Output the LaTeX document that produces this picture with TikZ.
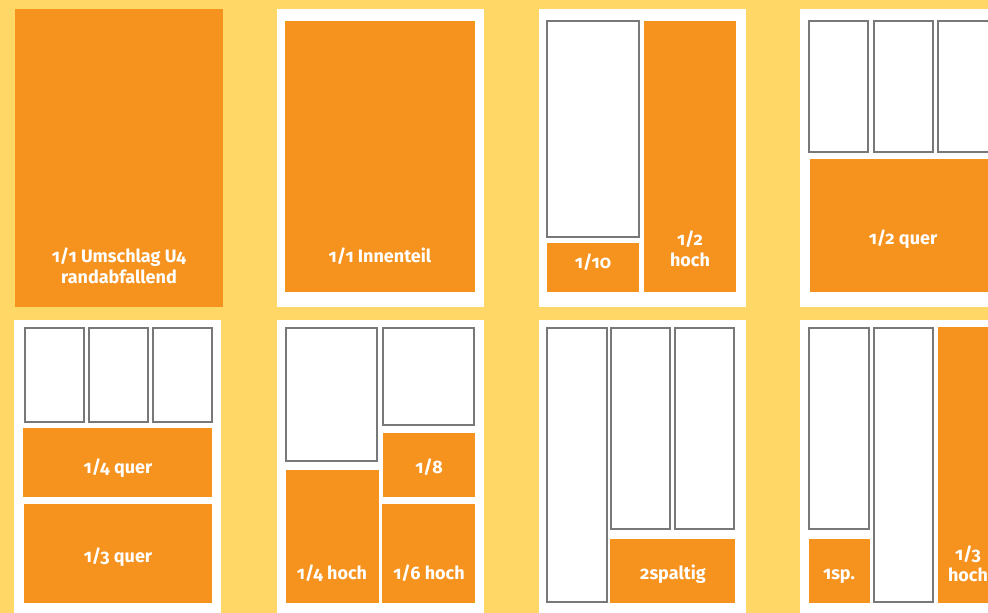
\documentclass[tikz,border=0pt]{standalone}
\usepackage{fontspec}
\setmainfont{Fira Sans}[Numbers=OldStyle]
\usepackage{xcolor}
\usepackage{tikz}
\usetikzlibrary{fit}

\definecolor{bgyellow}{RGB}{254,215,102}
\definecolor{adorange}{RGB}{246,146,30}
\definecolor{colgray}{RGB}{120,120,120}

\begin{document}
\begin{tikzpicture}[
    x=1pt, y=-1pt,
    font=\fontsize{18}{21}\selectfont\bfseries,
    page/.style={fill=white, inner sep=0pt, fit={#1}},
    ad/.style={fill=adorange, inner sep=0pt, fit={#1}},
    col/.style={draw=colgray, line width=1.3pt, fill=white, inner sep=0pt, fit={#1}},
    lbl/.style={text=white, anchor=base, align=center, inner sep=0pt}
]
\useasboundingbox (0,0) rectangle (988,613);
\clip (0,0) rectangle (988,613);
\fill[bgyellow] (0,0) rectangle (988,613);

% top row
\node[ad={(15,9) (223,307)}] (umschlag) {};
\node[lbl] (umschlagtext) at (119,283) {1/1 Umschlag U4\\randabfallend};

\node[page={(277,9) (484,307)}] (innen) {};
\node[ad={(285,21) (475,292)}] (innenad) {};
\node[lbl] (innentext) at (380,262) {1/1 Innenteil};

\node[page={(539,9) (746,307)}] (zehntel) {};
\node[col={(547,21) (639,237)}] (zehntelcol) {};
\node[ad={(547,243) (639,292)}] (zehntelad) {};
\node[lbl] (zehnteltext) at (593,268) {1/10};
\node[ad={(644,21) (736,292)}] (halbhoch) {};
\node[lbl] (halbhochtext) at (690,266) {1/2\\hoch};

\node[page={(800,9) (1007,307)}] (halbquer) {};
\foreach \x [count=\i] in {809,874,938}
    \node[col={(\x,21) (\x+59,152)}] (hqcol\i) {};
\node[ad={(810,159) (997,292)}] (halbquerad) {};
\node[lbl] (halbquertext) at (903,244) {1/2 quer};

% bottom row
\node[page={(14,320) (221,618)}] (viertelquer) {};
\foreach \x [count=\i] in {25,89,153}
    \node[col={(\x,328) (\x+59,422)}] (vqcol\i) {};
\node[ad={(23,428) (212,497)}] (viertelquerad) {};
\node[lbl] (viertelquertext) at (118,473) {1/4 quer};
\node[ad={(24,504) (212,603)}] (drittelquerad) {};
\node[lbl] (drittelquertext) at (118,562) {1/3 quer};

\node[page={(277,320) (484,618)}] (achtel) {};
\node[col={(286,328) (377,461)}] (achtelcol1) {};
\node[col={(383,328) (474,425)}] (achtelcol2) {};
\node[ad={(383,433) (475,497)}] (achtelad) {};
\node[lbl] (achteltext) at (429,473) {1/8};
\node[ad={(286,470) (379,603)}] (vierthoch) {};
\node[lbl] (vierthochtext) at (332,579) {1/4 hoch};
\node[ad={(382,504) (475,603)}] (sechsthoch) {};
\node[lbl] (sechsthochtext) at (429,579) {1/6 hoch};

\node[page={(539,320) (746,618)}] (zweisp) {};
\node[col={(547,328) (607,602)}] (zscol1) {};
\node[col={(611,328) (670,529)}] (zscol2) {};
\node[col={(675,328) (734,529)}] (zscol3) {};
\node[ad={(610,539) (735,603)}] (zweispad) {};
\node[lbl] (zweisptext) at (673,579) {2spaltig};

\node[page={(800,320) (1007,618)}] (einsp) {};
\node[col={(809,328) (869,529)}] (escol1) {};
\node[ad={(809,539) (870,603)}] (einspad) {};
\node[lbl] (einsptext) at (839,579) {1sp.};
\node[col={(874,328) (933,602)}] (escol2) {};
\node[ad={(938,327) (998,603)}] (dritthoch) {};
\node[lbl] (dritthochtext) at (968,581) {1/3\\hoch};
\end{tikzpicture}
\end{document}
